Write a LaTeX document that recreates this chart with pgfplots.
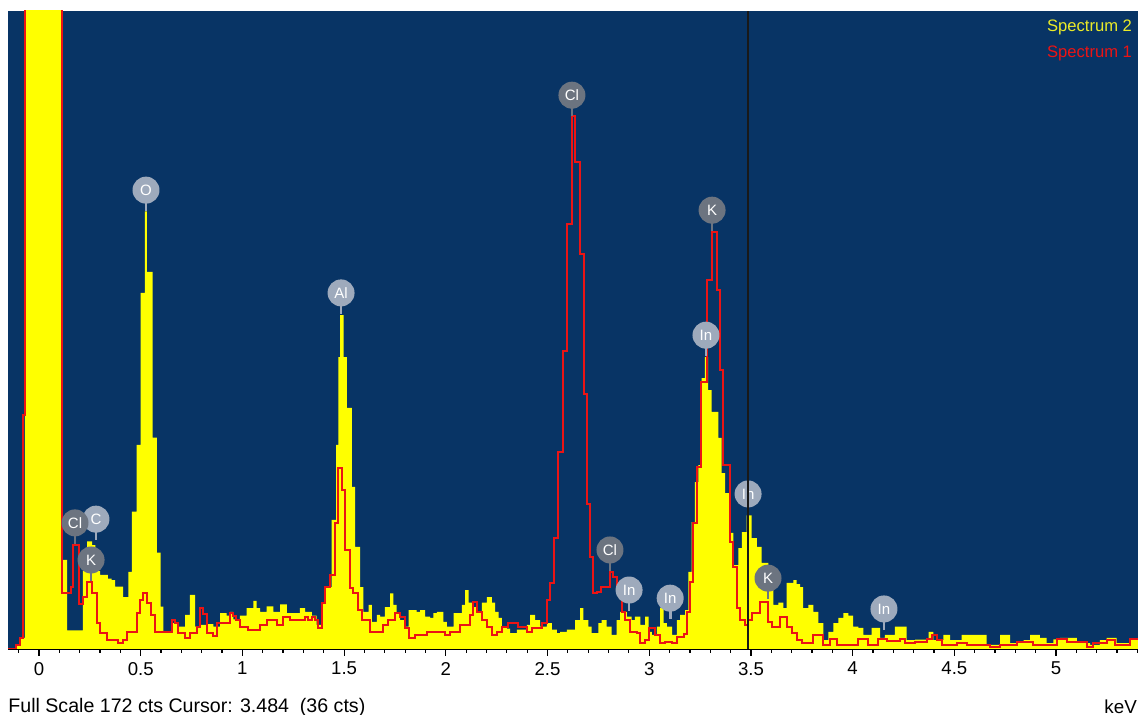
\documentclass[border=0pt]{standalone}
\usepackage{fontspec}
\setmainfont{Liberation Sans}
\usepackage{pgfplots}
\pgfplotsset{compat=1.18}
\definecolor{bgblue}{RGB}{8,52,101}
\definecolor{specyellow}{RGB}{255,255,0}
\definecolor{specred}{RGB}{235,20,20}
\definecolor{lbldark}{RGB}{108,116,128}
\definecolor{lbllight}{RGB}{158,170,188}
% element marker: stick down to the peak, round badge with the symbol
\newcommand{\elab}[4]{%
  \draw[#3, line width=1.4pt] (axis cs:#1,#2) -- ([yshift=-10.5pt]axis cs:#1,#2);
  \node[circle, fill=#3, inner sep=0pt, minimum size=13.5pt, text=white,
        font=\fontsize{7.5}{8}\selectfont] at (axis cs:#1,#2) {#4};}
\begin{document}
\begin{tikzpicture}
\begin{axis}[at={(0,0)}, anchor=south west,
  width=565pt, height=319pt, scale only axis,
  xmin=-0.1524, xmax=5.403, ymin=0, ymax=172,
  axis background/.style={fill=bgblue},
  axis x line=bottom, axis y line=none,
  axis line style={black, line width=0.6pt, -},
  xtick={0,0.5,...,5},
  xticklabels={0,0.5,1,1.5,2,2.5,3,3.5,4,4.5,5},
  minor xtick={-0.1,0,...,5.4},
  tick align=outside, major tick length=3.5pt, minor tick length=2pt,
  tick style={black, line width=0.6pt},
  xticklabel style={font=\fontsize{9.3}{11}\selectfont, yshift=0.5pt},
  ytick=\empty]
% Spectrum 2 (filled)
\addplot[const plot mark left, fill=specyellow, draw=none] coordinates {
(-0.16,0) (-0.113,1) (-0.093,3) (-0.069,400) (0.112,24) (0.138,5) (0.216,21)
(0.236,29) (0.261,28) (0.277,21) (0.300,20) (0.339,19) (0.357,18.6) (0.374,16.8)
(0.413,14) (0.439,20.8) (0.456,37) (0.480,55) (0.500,96) (0.520,118) (0.530,101.7)
(0.559,57) (0.579,26) (0.598,11.4) (0.611,4.7) (0.652,7) (0.685,6) (0.718,9.2)
(0.742,14.6) (0.767,6) (0.792,6.5) (0.824,6.7) (0.857,6) (0.890,9.7) (0.923,9)
(0.939,10) (0.955,8) (0.988,9) (1.021,11) (1.054,13) (1.070,11) (1.087,10)
(1.119,11.5) (1.152,10) (1.185,12) (1.218,9.7) (1.283,11) (1.308,10) (1.341,9)
(1.365,6.5) (1.390,12.4) (1.406,16.7) (1.439,34.8) (1.461,55) (1.472,78.7)
(1.480,90) (1.497,78.7) (1.513,65) (1.538,43.7) (1.554,27.5) (1.579,16.7)
(1.595,10) (1.620,11.9) (1.636,7.3) (1.661,9.2) (1.677,8.7) (1.701,11.3)
(1.726,15) (1.742,11.9) (1.758,9.7) (1.775,7.8) (1.800,6) (1.817,10.5)
(1.857,10) (1.874,10.5) (1.898,8.7) (1.923,8.4) (1.939,9.7) (1.956,10)
(1.988,7.3) (2.005,6) (2.038,9.7) (2.079,11.9) (2.095,15.9) (2.112,12.5)
(2.128,11.3) (2.152,9.7) (2.177,12.5) (2.202,14) (2.226,12.5) (2.243,10)
(2.259,8.4) (2.275,6) (2.300,5.5) (2.316,4.3) (2.349,5.2) (2.398,6.5)
(2.415,9.2) (2.439,7.8) (2.464,6) (2.497,7) (2.521,5.2) (2.546,4.3) (2.562,4.6)
(2.595,5.2) (2.636,7.8) (2.660,11) (2.676,7.8) (2.701,6) (2.717,4.3) (2.750,7)
(2.766,7.8) (2.791,6) (2.815,3.8) (2.840,7.8) (2.857,10) (2.890,8.7)
(2.914,7.8) (2.930,8.7) (2.956,6.5) (2.980,8.7) (2.997,4.6) (3.013,3.8)
(3.038,6) (3.054,11) (3.071,7) (3.087,6) (3.112,3.8) (3.136,7.8) (3.152,9.2)
(3.176,10.5) (3.192,20.8) (3.209,34.2) (3.225,45) (3.241,49.6) (3.258,73)
(3.274,78.7) (3.290,69.8) (3.307,63.9) (3.340,56.9) (3.356,47.4) (3.373,42)
(3.397,31.3) (3.414,22.6) (3.438,27.2) (3.455,31.5) (3.479,36) (3.504,29.9)
(3.529,27.5) (3.553,23.2) (3.586,16.7) (3.610,11.9) (3.635,12.5) (3.660,11)
(3.676,17.8) (3.709,18.6) (3.725,17.5) (3.742,16.7) (3.757,11) (3.782,11.9)
(3.807,10) (3.832,7) (3.856,2.4) (3.881,4.6) (3.905,7) (3.930,8.4) (3.954,9.7)
(3.979,9) (4.003,6) (4.028,5.7) (4.053,3.8) (4.093,5.7) (4.135,3) (4.159,3.8)
(4.208,6) (4.266,2.4) (4.307,2.5) (4.373,4.6) (4.397,2.4) (4.446,3.8)
(4.479,2.4) (4.536,3.8) (4.659,1.1) (4.725,3.8) (4.774,1.6) (4.840,2.4)
(4.872,3.8) (4.921,3) (4.954,1.6) (4.987,2.6) (5.020,3) (5.102,1.6) (5.167,1.1)
(5.216,2.4) (5.249,3) (5.298,1.6) (5.364,2.6) (5.45,2.6)} \closedcycle;
% Spectrum 1 (outline)
\addplot[const plot mark left, draw=specred, line width=1pt] coordinates {
(-0.16,0) (-0.113,1) (-0.093,3) (-0.078,63) (-0.069,400) (0.112,15)
(0.156,16.7) (0.169,28) (0.198,12) (0.215,14) (0.234,18) (0.259,15) (0.284,7)
(0.300,4.3) (0.333,2.4) (0.390,1.6) (0.415,2.4) (0.431,4.6) (0.480,9.7)
(0.497,13.2) (0.513,15.1) (0.529,12.4) (0.549,9.2) (0.570,4.6) (0.652,7.8)
(0.669,7) (0.685,4.3) (0.718,3) (0.742,4.3) (0.775,6) (0.792,11) (0.808,9.5)
(0.824,4.3) (0.857,3.5) (0.874,7) (0.939,9.7) (0.955,9) (0.970,7.8) (0.988,6)
(1.029,5) (1.087,6.5) (1.119,7.8) (1.169,6.5) (1.201,8.7) (1.234,7.8)
(1.308,8.5) (1.324,7.8) (1.341,8.5) (1.357,7.8) (1.373,5.7) (1.390,12.4)
(1.406,16.7) (1.431,20) (1.456,34) (1.472,48.8) (1.488,42.9) (1.505,26.7)
(1.529,16.4) (1.546,15) (1.570,10.5) (1.587,7.8) (1.628,4.6) (1.693,6.5)
(1.718,7.8) (1.751,9.7) (1.775,8.5) (1.800,5.7) (1.817,3) (1.849,3.8)
(1.906,4.6) (1.996,3.8) (2.021,4.6) (2.070,6.5) (2.120,9.2) (2.136,12.7)
(2.152,10) (2.177,7.8) (2.202,6) (2.226,3.8) (2.251,4.6) (2.275,6) (2.308,7)
(2.357,6) (2.398,4.6) (2.422,5.7) (2.472,7) (2.497,13.2) (2.513,17.8)
(2.530,30) (2.553,53) (2.576,80.4) (2.598,114.6) (2.618,143.7) (2.636,131.4)
(2.660,106.4) (2.678,68.8) (2.692,39) (2.708,24.8) (2.724,15.1) (2.741,15.5)
(2.765,16.7) (2.807,20.8) (2.823,19.4) (2.843,15.9) (2.864,10) (2.881,7.8)
(2.906,4.6) (2.940,4.3) (2.956,1.6) (2.980,2.5) (2.997,5.7) (3.030,3.8)
(3.054,1.6) (3.079,2) (3.112,1.6) (3.136,3.2) (3.169,4) (3.184,10) (3.200,18)
(3.217,34) (3.233,49) (3.253,72) (3.282,99.5) (3.307,112.4) (3.332,96.8)
(3.348,75.2) (3.365,49.6) (3.397,28.8) (3.414,22.1) (3.430,11) (3.446,7.8)
(3.471,6.5) (3.488,7.8) (3.504,9.7) (3.545,12.7) (3.586,7.3) (3.602,6)
(3.643,8.7) (3.676,6) (3.701,4.3) (3.725,2.4) (3.750,1.6) (3.807,3.8)
(3.856,1.1) (3.889,2.7) (3.922,1.1) (4.028,2.7) (4.077,1.2) (4.127,2.7)
(4.168,2.2) (4.233,2.7) (4.258,1.6) (4.307,2) (4.364,2.7) (4.389,3.8)
(4.414,2.5) (4.438,1.1) (4.512,1.5) (4.561,1.1) (4.676,0.5) (4.725,1.1)
(4.807,1.8) (4.889,1.1) (5.003,2.7) (5.053,1.8) (5.151,0.5) (5.184,1.6)
(5.250,2.4) (5.291,1.1) (5.364,2.7) (5.45,2.7)};
% element markers
\elab{0.280}{35}{lbllight}{C}
\elab{0.177}{34}{lbldark}{Cl}
\elab{0.256}{24}{lbldark}{K}
\elab{0.526}{123.7}{lbllight}{O}
\elab{1.485}{96}{lbllight}{Al}
\elab{2.620}{149.3}{lbldark}{Cl}
\elab{2.807}{26.7}{lbldark}{Cl}
\elab{2.901}{15.9}{lbllight}{In}
\elab{3.103}{13.7}{lbllight}{In}
\elab{3.279}{84.6}{lbllight}{In}
\elab{3.309}{118.3}{lbldark}{K}
\elab{3.486}{41.8}{lbllight}{In}
\elab{3.584}{19.1}{lbldark}{K}
\elab{4.154}{10.8}{lbllight}{In}
% cursor
\draw[black!90, line width=1pt] (axis cs:3.484,0) -- (axis cs:3.484,172);
% legend
\node[anchor=west, text={rgb,255:red,235;green,235;blue,40}, font=\fontsize{8.3}{10}\selectfont]
  at (rel axis cs:0.9133,0.975) {Spectrum 2};
\node[anchor=west, text=specred, font=\fontsize{8.3}{10}\selectfont]
  at (rel axis cs:0.9133,0.934) {Spectrum 1};
\end{axis}
% status line under the axis
\node[anchor=west, inner sep=0pt, font=\fontsize{9.8}{11}\selectfont]
  at (0pt,-29pt) {Full Scale 172 cts Cursor: 3.484~~(36 cts)};
\node[anchor=west, inner sep=0pt, font=\fontsize{9.4}{11}\selectfont]
  at (548pt,-29pt) {keV};
\pgfresetboundingbox
\useasboundingbox (-4pt,-33pt) rectangle (565pt,324.5pt);
\end{tikzpicture}
\end{document}
